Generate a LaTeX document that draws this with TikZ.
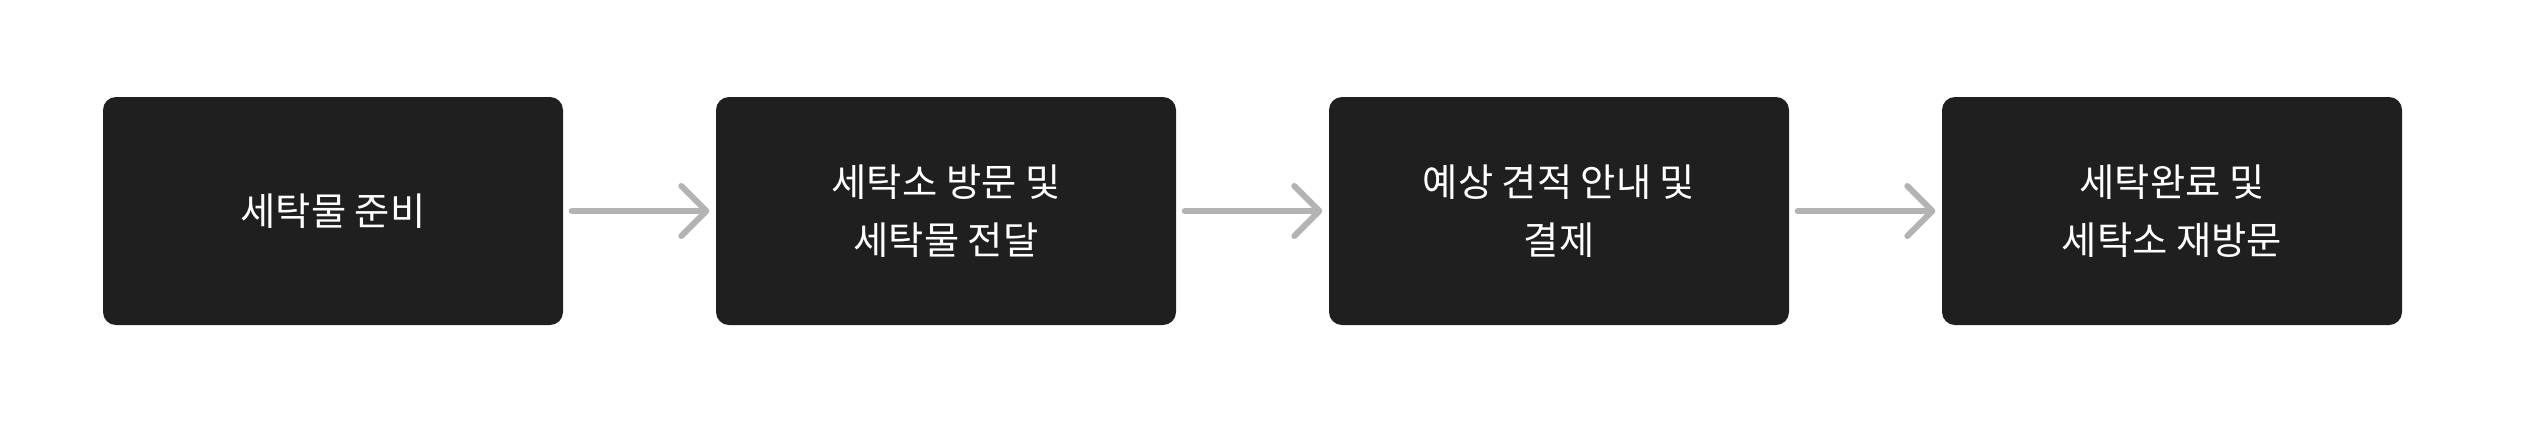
\documentclass[tikz,border=0pt]{standalone}
\usepackage{fontspec}
\setmainfont{Noto Sans CJK KR}
\usetikzlibrary{arrows.meta}
\definecolor{boxbg}{HTML}{1F1F1F}
\definecolor{arrgray}{HTML}{B3B3B3}
\begin{document}
\begin{tikzpicture}[font=\fontsize{10.9}{16.5}\selectfont,
          step box/.style={fill=boxbg, text=white, rounded corners=0.13cm, align=center,
            minimum width=4.6cm, minimum height=2.28cm, inner sep=0pt},
          arr/.style={-{Straight Barb[length=0.25cm, width=0.5cm, line cap=round, line join=round]},
            draw=arrgray, line width=0.06cm, line cap=round, shorten <=0.08cm, shorten >=0.06cm}]
        \useasboundingbox (0,0) rectangle (25.36,4.26);
        \node[step box] (s1) at (3.33,2.15) {세탁물 준비};
        \node[step box] (s2) at (9.46,2.15) {세탁소 방문 및\\세탁물 전달};
        \node[step box] (s3) at (15.59,2.15) {예상 견적 안내 및\\결제};
        \node[step box] (s4) at (21.72,2.15) {세탁완료 및\\세탁소 재방문};
        \foreach \a/\b in {s1/s2, s2/s3, s3/s4}
          \draw[arr] (\a.east) -- (\b.west);
      \end{tikzpicture}
\end{document}
